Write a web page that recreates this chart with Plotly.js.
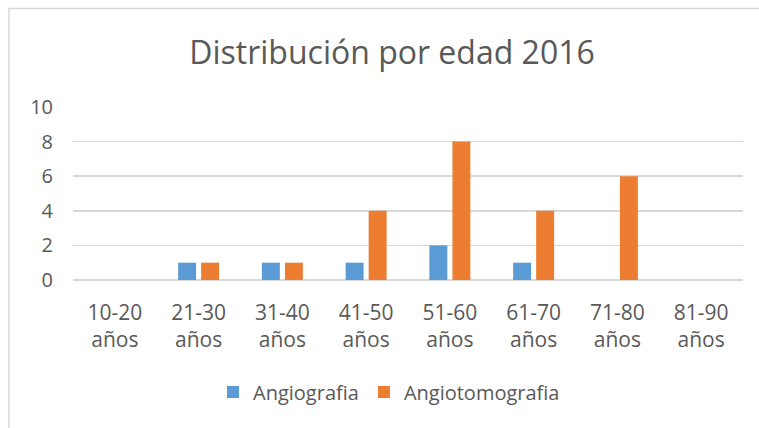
<!DOCTYPE html>
<html><head><meta charset="utf-8">
<script src="https://cdn.plot.ly/plotly-3.0.1.min.js"></script>
<style>html,body{margin:0;padding:0;background:#fff;}#chart{width:759px;height:428px;}</style>
</head><body><div id="chart"></div>
<script>
const categories = ["10-20<br>años","21-30<br>años","31-40<br>años","41-50<br>años","51-60<br>años","61-70<br>años","71-80<br>años","81-90<br>años"];
const angiografia = [0,1,1,1,2,1,0,0];
const angiotomografia = [0,1,1,4,8,4,6,0];
const yTicks = [0,2,4,6,8,10];
const FONT = "Open Sans, Noto Sans, sans-serif";
const traces = [
  {type:"bar", name:"Angiografia", x:categories, y:angiografia,
   marker:{color:"#5B9BD5", line:{width:0}}},
  {type:"bar", name:"Angiotomografia", x:categories, y:angiotomografia,
   marker:{color:"#ED7D31", line:{width:0}}}
];
const layout = {
  width:759, height:428,
  margin:{l:73, r:16, t:107, b:148},
  paper_bgcolor:"#fff", plot_bgcolor:"#fff",
  font:{family:FONT, color:"#595959", size:20},
  title:{text:"Distribución por edad 2016", font:{family:FONT, size:32, color:"#595959"},
         x:(392-73)/670, xanchor:"center", xref:"paper", y:1-53/428, yanchor:"middle", yref:"container"},
  barmode:"group", bargap:0.45, bargroupgap:0.22,
  showlegend:true,
  legend:{orientation:"h", x:(213-73)/670, xanchor:"left", y:(280-392)/173, yanchor:"middle",
          font:{size:20, color:"#595959"}, itemwidth:30, traceorder:"normal"},
  xaxis:{type:"category", showgrid:false, showline:false, zeroline:false, ticks:"",
         tickfont:{size:21, color:"#595959"}, ticklabelstandoff:18, automargin:false},
  yaxis:{range:[0,10], tickvals:yTicks, showgrid:true, gridcolor:"#d9d9d9", gridwidth:1.5,
         zeroline:true, zerolinecolor:"#d9d9d9", zerolinewidth:1.5, showline:false, ticks:"",
         tickfont:{size:20, color:"#595959"}, ticklabelstandoff:19, automargin:false, fixedrange:true},
  shapes:[{type:"rect", xref:"paper", yref:"paper",
           x0:(9-73)/670, x1:(770-73)/670, y0:(280-440)/173, y1:(280-8.5)/173,
           line:{color:"#d9d9d9", width:1.5}, fillcolor:"rgba(0,0,0,0)", layer:"below"}]
};
Plotly.newPlot("chart", traces, layout, {displayModeBar:false, staticPlot:true});
</script></body></html>
